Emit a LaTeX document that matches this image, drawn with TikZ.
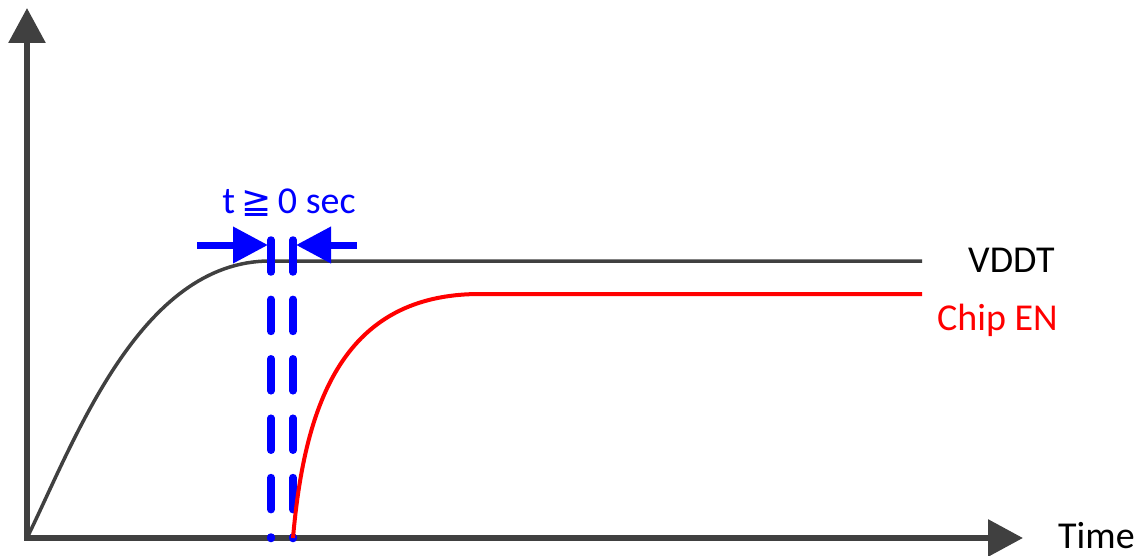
\documentclass[tikz,border=0pt]{standalone}
\usepackage{fontspec}
\setmainfont{Carlito}
\newfontfamily\symfont{DejaVu Sans}
\usetikzlibrary{arrows.meta}
\definecolor{axisgray}{HTML}{404040}
\definecolor{sigblue}{HTML}{0000FF}
\definecolor{sigred}{HTML}{FF0000}
\begin{document}
\begin{tikzpicture}[x=1pt,y=-1pt,
  axis/.style={draw=axisgray,line width=6pt,-{Triangle[length=35pt,width=36pt]}},
  vddcurve/.style={draw=axisgray,line width=3.5pt},
  encurve/.style={draw=sigred,line width=4pt},
  markline/.style={draw=sigblue,line width=7.5pt,line cap=round,dash pattern=on 32pt off 27.4pt},
  gaparrow/.style={draw=sigblue,line width=7pt,-{Triangle[length=35pt,width=35pt]}},
  lbl/.style={font=\fontsize{38}{40}\selectfont,inner sep=0pt,anchor=base west}]
\useasboundingbox (0,0) rectangle (1142,556);
% coordinates
\coordinate (O) at (27,538);
\coordinate (ytip) at (27,8);
\coordinate (xtip) at (1023,538);
\coordinate (v1) at (270,261);
\coordinate (v2) at (922,261);
\coordinate (e0) at (293,538);
\coordinate (e1) at (480,294);
\coordinate (e2) at (922,294);
\coordinate (d1t) at (271,240);
\coordinate (d1b) at (271,538.5);
\coordinate (d2t) at (293,240);
\coordinate (d2b) at (293,538.5);
\coordinate (la) at (197,245);
\coordinate (lb) at (268,245);
\coordinate (ra) at (357,245);
\coordinate (rb) at (296,245);
% axes
\draw[axis] (O) -- (ytip);
\draw[axis] ([xshift=-3pt]O) -- (xtip);
% VDDT
\draw[vddcurve] (O) .. controls (75,440) and (140,261) .. (v1) -- (v2);
% blue markers
\draw[markline] (d1t) -- (d1b);
\draw[markline] (d2t) -- (d2b);
% Chip EN
\draw[encurve] (e0) .. controls (305,400) and (345,294) .. (e1) -- (e2);
% gap arrows
\draw[gaparrow] (la) -- (lb);
\draw[gaparrow] (ra) -- (rb);
% labels
\node[lbl,anchor=base] (tl) at (289,213) {\textcolor{sigblue}{t\,{\symfont\fontsize{36}{38}\selectfont ≧}\,0 sec}};
\node[lbl] (vddt) at (968,272) {VDDT};
\node[lbl,text=sigred] (chipen) at (937,330) {Chip EN};
\node[lbl] (time) at (1058,548) {Time};
\end{tikzpicture}
\end{document}
